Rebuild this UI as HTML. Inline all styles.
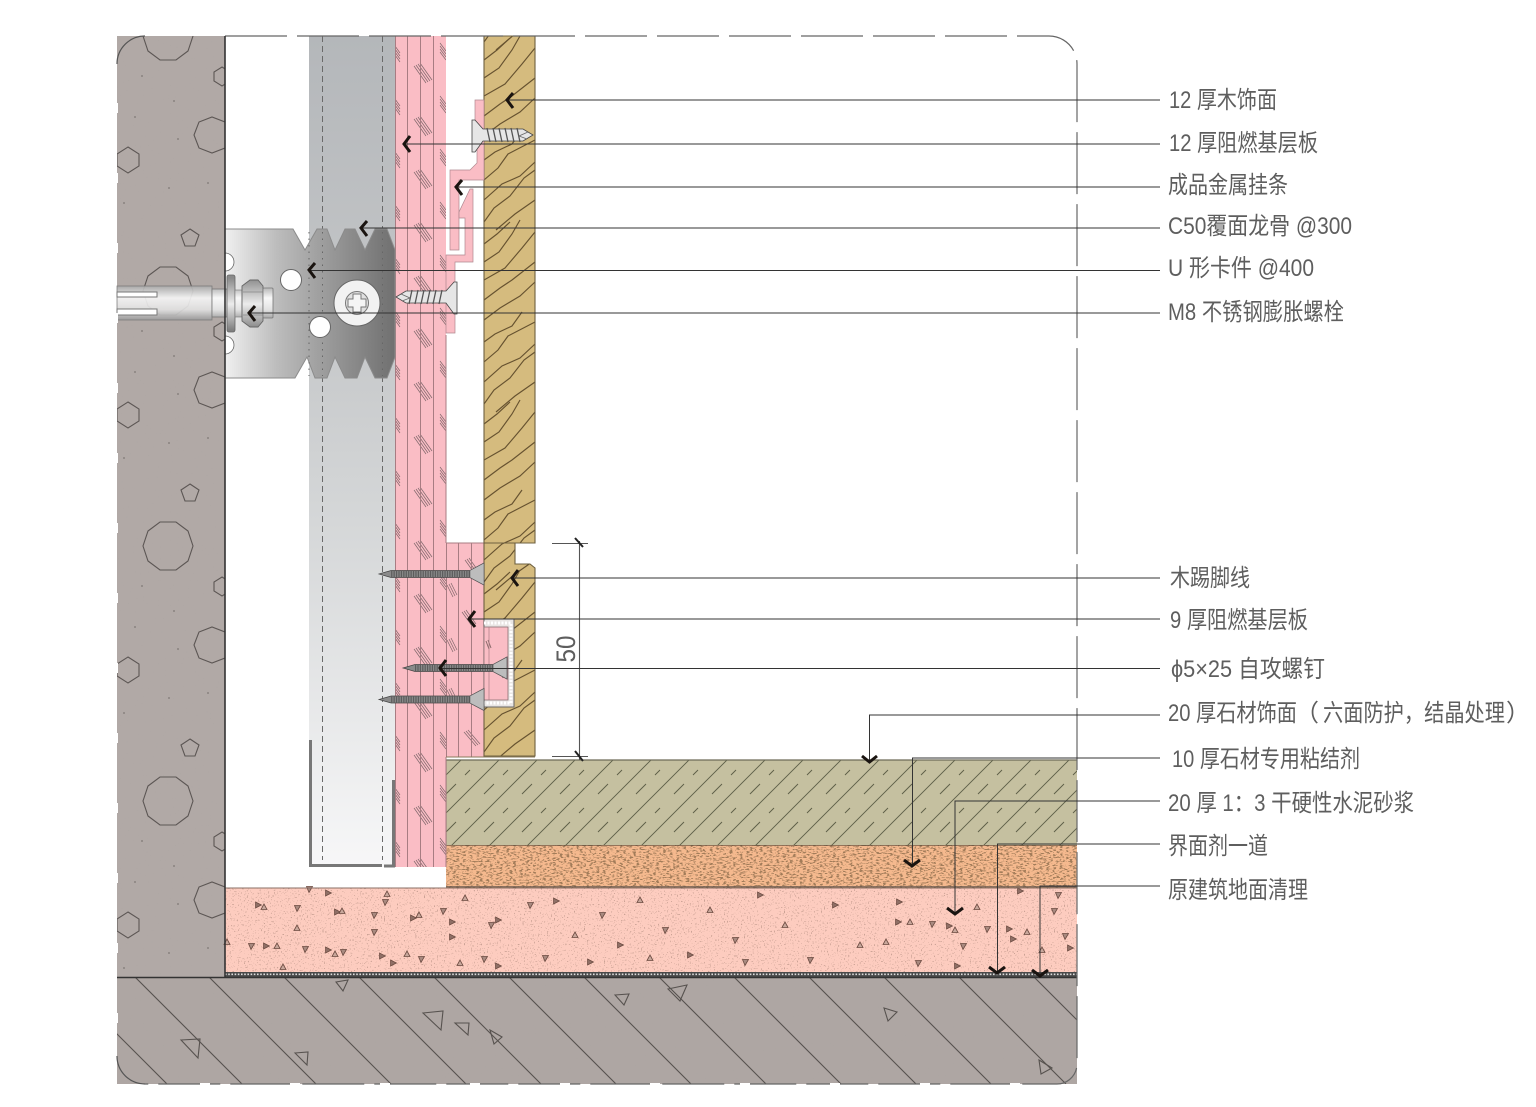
<!DOCTYPE html>
<html><head><meta charset="utf-8"><title>木饰面踢脚节点</title>
<style>html,body{margin:0;padding:0;background:#fff}svg{display:block}
text{font-family:"Liberation Sans","Noto Sans CJK SC",sans-serif;font-size:24px;fill:#5e5e5e}</style></head>
<body>
<svg xmlns="http://www.w3.org/2000/svg" width="1536" height="1107" viewBox="0 0 1536 1107">
<defs>
<linearGradient id="stud" x1="0" y1="36" x2="0" y2="867" gradientUnits="userSpaceOnUse">
<stop offset="0" stop-color="#b4b7ba"/><stop offset=".3" stop-color="#c2c4c6"/><stop offset=".6" stop-color="#d6d8d9"/><stop offset="1" stop-color="#f7f7f8"/></linearGradient>
<linearGradient id="clip" x1="225" y1="0" x2="395" y2="0" gradientUnits="userSpaceOnUse">
<stop offset="0" stop-color="#f0f0f0"/><stop offset=".3" stop-color="#bdbdbd"/><stop offset=".55" stop-color="#a0a0a0"/><stop offset="1" stop-color="#707070"/></linearGradient>
<linearGradient id="bolt" x1="0" y1="286" x2="0" y2="320" gradientUnits="userSpaceOnUse">
<stop offset="0" stop-color="#aaaaaa"/><stop offset=".35" stop-color="#f8f8f8"/><stop offset=".7" stop-color="#e2e2e2"/><stop offset="1" stop-color="#999"/></linearGradient>
<linearGradient id="nut" x1="0" y1="278" x2="0" y2="330" gradientUnits="userSpaceOnUse">
<stop offset="0" stop-color="#8a8a8a"/><stop offset=".5" stop-color="#ececec"/><stop offset="1" stop-color="#808080"/></linearGradient>

<pattern id="stone" width="38" height="38" patternUnits="userSpaceOnUse" patternTransform="translate(5,0)">
<path d="M-2 40L40 -2M-2 2L2 -2M36 40L40 36" stroke="#5e5f48" stroke-width=".95" fill="none"/>
<path d="M23 34L33 24M4 15L9 10" stroke="#5e5f48" stroke-width=".95" fill="none"/>
</pattern>
<pattern id="phatch" width="51" height="53" patternUnits="userSpaceOnUse" patternTransform="translate(395,42)">
<g stroke="#80686b" stroke-width=".7" fill="none">
<path d="M0 4L5 11M0 7L5 14M0 10L5 17M0 13L5 20"/>
<path d="M19 24L31 41M21 23L33 40M23 22L35 39M25 21L37 38"/>
<path d="M45 1L51 9M45 4L51 12M45 7L51 15M45 10L51 18"/>
</g></pattern>

<filter id="fOrange" x="0" y="0" width="100%" height="100%">
<feTurbulence type="fractalNoise" baseFrequency="0.3 0.75" numOctaves="2" seed="4"/>
<feColorMatrix values="0 0 0 0 .36  0 0 0 0 .2  0 0 0 0 .1  9 0 0 0 -4.7"/>
</filter>
<filter id="fPink" x="0" y="0" width="100%" height="100%">
<feTurbulence type="fractalNoise" baseFrequency="0.7" numOctaves="1" seed="9"/>
<feColorMatrix values="0 0 0 0 .6  0 0 0 0 .36  0 0 0 0 .3  14 0 0 0 -8.7"/>
</filter>
<filter id="fGrey" x="0" y="0" width="100%" height="100%">
<feTurbulence type="fractalNoise" baseFrequency="0.6" numOctaves="1" seed="14"/>
<feColorMatrix values="0 0 0 0 .4  0 0 0 0 .38  0 0 0 0 .36  12 0 0 0 -8.6"/>
</filter>

<clipPath id="wallc"><rect x="117" y="36" width="108" height="941"/></clipPath>
<clipPath id="floorc"><rect x="117" y="978" width="960" height="106"/></clipPath>
<clipPath id="woodc"><path d="M484 36H535V543H484ZM484 543H515V564H530L535 568V756H484Z"/></clipPath>

<g id="agg" fill="none" stroke="#5c5654" stroke-width="1.1">
<polygon points="193,36 188,51 176,60 160,60 148,51 143,36 148,21 160,12 176,12 188,21"/>
<polygon points="230,135 225,148 212,153 199,148 194,135 199,122 212,117 225,122"/>
<polygon points="128,147 139,154 139,166 128,173 117,166 117,154"/>
<polygon points="190,229 199,235 195,246 185,246 181,235"/>
<polygon points="222,67 230,72 230,81 222,86 214,81 214,72"/>
<g fill="#8a8280" stroke="none"><circle cx="142" cy="76" r="1"/><circle cx="174" cy="101" r="1"/><circle cx="135" cy="117" r="1"/><circle cx="178" cy="139" r="1"/><circle cx="169" cy="188" r="1"/><circle cx="208" cy="183" r="1"/><circle cx="124" cy="203" r="1"/></g>
</g>

<g id="woodA" fill="none" stroke="#665230" stroke-width="1.15">
<path d="M484 24L497 14L510 2"/><path d="M484 42L499 32L512 14L520 0"/><path d="M484 60L505 48L522 28L535 12"/><path d="M484 80L500 68L512 60L535 42"/><path d="M484 100L500 88L520 76L535 62"/>
</g>
<g id="woodB" fill="none" stroke="#665230" stroke-width="1.15">
<path d="M484 30L495 22L512 14L522 0"/><path d="M484 50L498 38L508 24L535 10"/><path d="M484 70L502 54L520 46L535 32"/><path d="M484 92L494 78L510 66L524 48L535 40"/><path d="M496 100L515 84L535 70"/>
</g>

<g id="dscrew">
<path d="M0 0L12 -3.5H90L104 -11V11L90 3.5H12Z" fill="#8a8a8a" stroke="#444" stroke-width=".7"/>
<line x1="12" y1="0" x2="90" y2="0" stroke="#5c5c5c" stroke-width="7" stroke-dasharray="1.2 1.2"/>
<path d="M90 -3.5L104 -11V11L90 3.5Z" fill="#bdbdbd" stroke="#555" stroke-width=".7"/>
</g>
<g id="tscrew">
<path d="M0 0L10 -6H50L58 -15H61V17H58L50 6H10Z" fill="#e6e6e6" stroke="#444" stroke-width=".8"/>
<path d="M16 -7L13 7M22 -7L19 7M28 -7L25 7M34 -7L31 7M40 -7L37 7M46 -7L43 7" stroke="#555" stroke-width="1.3"/>
<path d="M5 -3L14 1L6 4" fill="none" stroke="#666" stroke-width=".8"/>
</g>
<path id="tri" d="M-2.5 -2.5L3.5 -2.5L0 3.5Z" fill="#a98a80" stroke="#6b4a40" stroke-width=".8"/>
<path id="tri2" d="M-2.5 -3L3.5 0L-2.5 3Z" fill="#8f6f66" stroke="#6b4a40" stroke-width=".7"/>
<path id="tri3" d="M-3 2.5L0 -3L3 2.5Z" fill="#c9a89c" stroke="#6b4a40" stroke-width=".8"/>
</defs>

<rect width="1536" height="1107" fill="#fff"/>

<!-- wall -->
<rect x="117" y="36" width="108" height="941" fill="#b1a9a6"/>
<rect x="117" y="36" width="108" height="941" filter="url(#fGrey)" opacity=".5"/>
<g clip-path="url(#wallc)">
<use href="#agg"/><use href="#agg" y="255"/><use href="#agg" y="510"/><use href="#agg" y="765"/>
</g>

<!-- floor -->
<rect x="117" y="977" width="960" height="107" fill="#aea6a3"/>
<rect x="117" y="977" width="960" height="107" filter="url(#fGrey)" opacity=".5"/>
<g clip-path="url(#floorc)" stroke="#57524f" stroke-width="1.1" fill="none">
<path d="M60 977l107 107M135 977l107 107M209 977l107 107M284 977l107 107M359 977l107 107M434 977l107 107M509 977l107 107M584 977l107 107M659 977l107 107M734 977l107 107M809 977l107 107M884 977l107 107M959 977l107 107M1034 977l107 107"/>
<path d="M423 1013L443 1011L441 1030ZM455 1023L469 1023L468 1035ZM490 1030L502 1037L494 1044ZM181 1040L200 1039L198 1058ZM295 1053L308 1052L307 1065ZM668 989L687 985L680 1001ZM615 995L629 994L624 1005ZM336 982L348 980L343 991ZM884 1008L897 1012L888 1021ZM1039 1060L1052 1068L1041 1074Z"/>
</g>

<!-- screed -->
<rect x="225" y="888" width="852" height="85" fill="#fdccbf"/>
<rect x="225" y="888" width="852" height="85" filter="url(#fPink)"/>
<g>
<use href="#tri" x="309" y="889"/><use href="#tri2" x="328" y="893"/><use href="#tri3" x="387" y="894"/><use href="#tri" x="385" y="902"/><use href="#tri2" x="258" y="905"/><use href="#tri3" x="264" y="907"/><use href="#tri" x="297" y="908"/><use href="#tri2" x="337" y="912"/><use href="#tri3" x="342" y="911"/><use href="#tri" x="374" y="915"/><use href="#tri2" x="413" y="918"/><use href="#tri3" x="419" y="915"/><use href="#tri" x="443" y="911"/><use href="#tri2" x="452" y="922"/><use href="#tri3" x="465" y="898"/><use href="#tri" x="491" y="925"/><use href="#tri2" x="498" y="920"/><use href="#tri3" x="297" y="928"/><use href="#tri" x="374" y="932"/><use href="#tri2" x="452" y="937"/><use href="#tri3" x="227" y="942"/><use href="#tri" x="251" y="946"/><use href="#tri2" x="266" y="946"/><use href="#tri3" x="277" y="946"/><use href="#tri" x="305" y="949"/><use href="#tri2" x="328" y="950"/><use href="#tri3" x="335" y="954"/><use href="#tri" x="343" y="952"/><use href="#tri2" x="382" y="956"/><use href="#tri3" x="407" y="954"/><use href="#tri" x="421" y="959"/><use href="#tri2" x="393" y="963"/><use href="#tri3" x="460" y="963"/><use href="#tri" x="484" y="959"/><use href="#tri2" x="498" y="966"/><use href="#tri3" x="283" y="967"/>
<use href="#tri" x="530" y="905"/><use href="#tri2" x="556" y="901"/><use href="#tri3" x="575" y="935"/><use href="#tri" x="602" y="915"/><use href="#tri2" x="620" y="945"/><use href="#tri3" x="640" y="900"/><use href="#tri" x="665" y="930"/><use href="#tri2" x="690" y="955"/><use href="#tri3" x="710" y="910"/><use href="#tri" x="735" y="940"/><use href="#tri2" x="760" y="895"/><use href="#tri3" x="785" y="925"/><use href="#tri" x="810" y="960"/><use href="#tri2" x="835" y="905"/><use href="#tri3" x="860" y="945"/><use href="#tri" x="545" y="958"/><use href="#tri2" x="590" y="962"/><use href="#tri3" x="650" y="958"/><use href="#tri" x="745" y="962"/>
<use href="#tri2" x="1020" y="891"/><use href="#tri" x="1058" y="895"/><use href="#tri2" x="899" y="902"/><use href="#tri3" x="977" y="907"/><use href="#tri" x="1054" y="911"/><use href="#tri2" x="898" y="922"/><use href="#tri3" x="910" y="922"/><use href="#tri" x="932" y="924"/><use href="#tri2" x="949" y="926"/><use href="#tri3" x="955" y="930"/><use href="#tri" x="987" y="929"/><use href="#tri2" x="1009" y="929"/><use href="#tri3" x="1027" y="932"/><use href="#tri" x="1065" y="936"/><use href="#tri2" x="1013" y="939"/><use href="#tri3" x="886" y="942"/><use href="#tri" x="963" y="946"/><use href="#tri2" x="1070" y="948"/><use href="#tri3" x="1042" y="950"/><use href="#tri" x="918" y="963"/><use href="#tri2" x="957" y="966"/>
</g>
<line x1="225" y1="888" x2="1077" y2="888" stroke="#8a6f66" stroke-width="1"/>
<rect x="225" y="972" width="852" height="5" fill="#4a4a4a"/>
<line x1="225" y1="974.3" x2="1077" y2="974.3" stroke="#ddd" stroke-width="1.6" stroke-dasharray="1.6 1.6"/>
<line x1="117" y1="977.5" x2="1077" y2="977.5" stroke="#333" stroke-width="1.6"/>

<!-- adhesive layer -->
<rect x="446" y="845" width="631" height="43" fill="#f5b98e"/>
<rect x="446" y="845" width="631" height="43" filter="url(#fOrange)"/>
<line x1="446" y1="845" x2="1077" y2="845" stroke="#5a4a3a" stroke-width="1.2"/>
<line x1="446" y1="887" x2="1077" y2="887" stroke="#6b5a50" stroke-width="1.4"/>

<!-- stone -->
<rect x="446" y="760" width="631" height="85" fill="#c5c0a0"/>
<rect x="446" y="760" width="631" height="85" fill="url(#stone)"/>
<path d="M1077 760H446V845" fill="none" stroke="#6d6b58" stroke-width="1.2"/>

<!-- stud -->
<rect x="309" y="36" width="86" height="831" fill="url(#stud)"/>
<path d="M322.5 36V860M382.5 36V860" stroke="#6a6a6a" stroke-width="1" stroke-dasharray="6 4" fill="none"/>
<path d="M310.5 740V865.5H382M393.5 780V866H384" fill="none" stroke="#777" stroke-width="3"/>

<!-- pink board -->
<rect x="395" y="36" width="51" height="831" fill="#fabdc5"/>
<rect x="395" y="36" width="51" height="831" fill="url(#phatch)"/>
<path d="M395.5 36V867M407.5 36V867M420.5 36V867M433.5 36V867M446 335V543M446 757V867" stroke="#a87c82" stroke-width="1" fill="none"/>

<!-- lower pink base -->
<rect x="446" y="543" width="38" height="214" fill="#fabdc5"/>
<g stroke="#80686b" stroke-width=".7" fill="none"><path d="M465 560l10 14M467 559l10 14M469 558l10 14M462 612l10 14M464 611l10 14M466 610l10 14M447 585l6 12M449 584l6 12M451 583l6 12M447 640l6 12M449 639l6 12M451 638l6 12M464 732l12 14M466 731l12 14M468 730l12 14M447 690l6 12M449 689l6 12M451 688l6 12"/></g>
<path d="M446.5 543V757M458.5 543V757M471.5 543V757M446 543H484" stroke="#a87c82" stroke-width="1" fill="none"/>
<line x1="446" y1="757" x2="535" y2="757" stroke="#8a7a5a" stroke-width="1"/>

<!-- U clip -->
<path d="M225 229H293L305 250L317 229H327L335 250L345 229H355L365 250L375 229H387L395 250V357L387 378H375L365 357L357 378H345L335 357L327 378H315L307 357L295 378H225Z" fill="url(#clip)" stroke="#8b8b8b" stroke-width="1"/>
<path d="M309 232V376M322.5 232V376M382.5 232V376" stroke="#666" stroke-width="1" stroke-dasharray="1.5 5" fill="none"/>
<circle cx="291" cy="280" r="10.5" fill="#fff" stroke="#666"/>
<circle cx="320" cy="327" r="10.5" fill="#fff" stroke="#666"/>
<path d="M225 253A9 9 0 0 1 225 271ZM225 336A9 9 0 0 1 225 354Z" fill="#fff" stroke="#666" stroke-width=".8"/>
<circle cx="357" cy="303" r="23" fill="#f2f2f2" stroke="#666"/>
<circle cx="357" cy="303" r="11.5" fill="#e0e0e0" stroke="#777"/>
<path d="M353 294H361V299H366V307H361V312H353V307H348V299H353Z" fill="#f5f5f5" stroke="#777"/>

<!-- bolt -->
<rect x="117" y="286" width="95" height="34" fill="url(#bolt)" stroke="#777" stroke-width=".8" opacity=".9"/>
<path d="M117 292H157V297H117ZM117 309H157V315H117Z" fill="#fff" stroke="#777" stroke-width="1"/>
<rect x="212" y="289" width="15" height="28" fill="url(#bolt)" stroke="#777" stroke-width=".8"/>
<rect x="227" y="275" width="8" height="57" rx="2" fill="url(#nut)" stroke="#666" stroke-width=".8"/>
<rect x="235" y="290" width="7" height="27" fill="url(#bolt)" stroke="#777" stroke-width=".6"/>
<path d="M242 286L250 280H258L263 286V321L258 327H250L242 321Z" fill="url(#nut)" stroke="#666" stroke-width=".9"/>
<path d="M243 292H263M243 315H263" stroke="#888" stroke-width=".8"/>
<rect x="263" y="288" width="10" height="30" rx="1" fill="url(#bolt)" stroke="#777" stroke-width=".8"/>

<!-- wood -->
<path d="M484 36H535V543H484Z" fill="#d5bb7e"/>
<path d="M484 543H515V564H530L535 568V756H484Z" fill="#d5bb7e"/>
<g clip-path="url(#woodc)">
<use href="#woodB" y="-50"/><use href="#woodA" y="36"/><use href="#woodB" y="130"/><use href="#woodA" y="220"/><use href="#woodB" y="312"/><use href="#woodA" y="400"/><use href="#woodB" y="490"/><use href="#woodA" y="570"/><use href="#woodB" y="660"/>
</g>
<path d="M484 36H535V543H484V36M484 543H515V564H530L535 568V756H484V543" fill="none" stroke="#6e6040" stroke-width="1.1"/>

<!-- channel at skirting -->
<rect x="484" y="619" width="30" height="88" fill="#e9e6e4" stroke="#666" stroke-width="1"/>
<path d="M484 623H511V703H484" fill="none" stroke="#fff" stroke-width="3" stroke-dasharray="2 1.5"/>
<rect x="484" y="627" width="24" height="73" fill="#fabdc5" stroke="#8a7074" stroke-width=".8"/>
<path d="M486 641l3 8M488 640l3 8M499 668l4 10M501 667l4 10" stroke="#8a6a6a" stroke-width="1"/>
<line x1="489" y1="627" x2="489" y2="700" stroke="#a87c82" stroke-width=".7"/>

<!-- metal hanging strip -->
<path d="M475 100H484V180H459V250H450V170H470L477 163V150H475Z" fill="#fabdc5" stroke="#b08890" stroke-width=".7"/>
<path d="M470 189H473V262H455V333H446V255H465V218H459V212Z" fill="#fabdc5" stroke="#b08890" stroke-width=".7"/>

<!-- screws -->
<use href="#tscrew" transform="translate(533,135) scale(-1,1)"/>
<use href="#tscrew" transform="translate(396,297)"/>
<use href="#dscrew" transform="translate(379,574) scale(1.01,1)"/>
<use href="#dscrew" transform="translate(403,668)"/>
<use href="#dscrew" transform="translate(379,699.5) scale(1.01,1)"/>

<!-- dimension -->
<g stroke="#555" stroke-width="1.1" fill="none">
<path d="M579.5 541V760M552 543.5H588M552 756.5H588"/>
<path d="M575 538L583 547M575 751L583 761" stroke="#222" stroke-width="2"/>
</g>
<text transform="translate(575,649) rotate(-90)" text-anchor="middle" style="font-size:27px" textLength="27" lengthAdjust="spacingAndGlyphs">50</text>

<!-- frame -->
<path d="M225 36H1049A28 28 0 0 1 1077 64V1064A20 20 0 0 1 1057 1084H145" fill="none" stroke="#666" stroke-width="1.2" stroke-dasharray="62 10"/>
<path d="M145 36A28 28 0 0 0 117 64M117 1056A28 28 0 0 0 145 1084" fill="none" stroke="#555" stroke-width="1.2"/>
<path d="M117 103V113M117 173V183M117 243V253M117 313V323M117 383V393M117 453V463M117 523V533M117 593V603M117 663V673M117 733V743M117 803V813M117 873V883M117 943V953M117 1013V1023" stroke="#fff" stroke-width="2"/>
<path d="M200 1084H210M290 1084H300M380 1084H390M470 1084H480M560 1084H570M650 1084H660M740 1084H750M830 1084H840M920 1084H930M1010 1084H1020" stroke="#fff" stroke-width="2"/>
<line x1="225" y1="36" x2="225" y2="977" stroke="#333" stroke-width="1.6"/>

<!-- leaders -->
<g fill="none" stroke="#333" stroke-width="1">
<path d="M508 100H1160M405 144H1160M457 187H1160M362 228H1160M310 270.5H1160M250 313H1160M513 578H1160M470 619H1160M441 668.5H1160"/>
<path d="M1160 715H869.5V762M1160 758H912.5V866M1160 801H955V915M1160 844H997.5V973M1160 886H1040V975"/>
</g>
<g fill="none" stroke="#1a1410" stroke-width="3">
<path d="M513 93L507 100L513 108M410 136L404 144L410 152M462 180L456 187L462 195M367 221L361 228L367 236M315 263L309 270L315 278M255 306L249 313L255 321M518 570L512 578L518 586M475 611L469 619L475 627M446 660L440 668L446 676"/>
<path d="M862 756L869.5 762L877 756M904 860L912 866L920 860M947 908L955 914L963 908M989 967L997 973L1005 967M1032 970L1040 976L1048 970"/>
</g>

<!-- labels -->
<text x="1169" y="108" textLength="108" lengthAdjust="spacingAndGlyphs">12 厚木饰面</text>
<text x="1169" y="151" textLength="149" lengthAdjust="spacingAndGlyphs">12 厚阻燃基层板</text>
<text x="1168" y="193" textLength="120" lengthAdjust="spacingAndGlyphs">成品金属挂条</text>
<text x="1168" y="234" textLength="184" lengthAdjust="spacingAndGlyphs">C50覆面龙骨 @300</text>
<text x="1168" y="276" textLength="146" lengthAdjust="spacingAndGlyphs">U 形卡件 @400</text>
<text x="1168" y="320" textLength="176" lengthAdjust="spacingAndGlyphs">M8 不锈钢膨胀螺栓</text>
<text x="1170" y="586" textLength="80" lengthAdjust="spacingAndGlyphs">木踢脚线</text>
<text x="1170" y="628" textLength="138" lengthAdjust="spacingAndGlyphs">9 厚阻燃基层板</text>
<text x="1171" y="677" textLength="154" lengthAdjust="spacingAndGlyphs">ϕ5×25 自攻螺钉</text>
<text x="1168" y="721" textLength="129" lengthAdjust="spacingAndGlyphs">20 厚石材饰面</text>
<text x="1295" y="721">（</text>
<text x="1323" y="721" textLength="182" lengthAdjust="spacingAndGlyphs">六面防护，结晶处理</text>
<text x="1506" y="721">）</text>
<text x="1172" y="767" textLength="188" lengthAdjust="spacingAndGlyphs">10 厚石材专用粘结剂</text>
<text x="1168" y="811" textLength="246" lengthAdjust="spacingAndGlyphs">20 厚 1：3 干硬性水泥砂浆</text>
<text x="1168" y="854" textLength="100" lengthAdjust="spacingAndGlyphs">界面剂一道</text>
<text x="1168" y="898" textLength="140" lengthAdjust="spacingAndGlyphs">原建筑地面清理</text>
</svg>
</body></html>
